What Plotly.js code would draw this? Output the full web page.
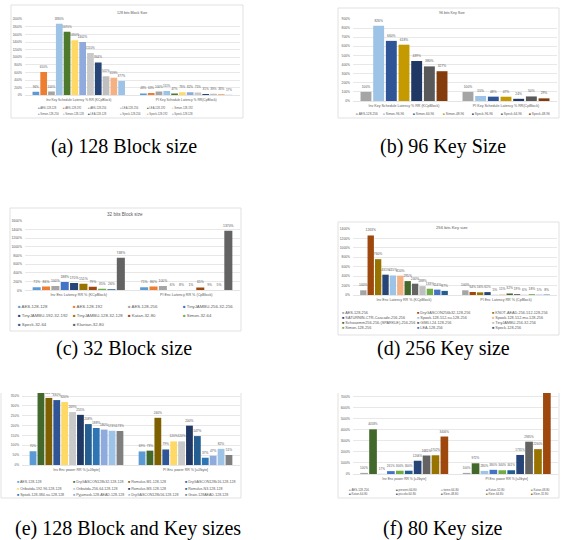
<!DOCTYPE html>
<html><head><meta charset="utf-8">
<script src="https://cdn.plot.ly/plotly-3.0.1.min.js"></script>
<style>html,body{margin:0;padding:0;background:#fff;}#chart{width:568px;height:540px;}</style>
</head><body><div id="chart"></div>
<script>
// ---------- DATA ----------
// (a) 128 bits Block Size
const aCats = ["Inv Key Schedule Latency % RR (KCpBlock)", "PI Key Schedule Latency % RR(CpBlock)"];
const aNames = ["AES-128-128","AES-128-192","AES-128-256","LEA-128-256","LEA-128-192","Simon-128-192","Simon-128-256","Simon-128-128","LEA-128-128","Speck-128-256","Speck-128-192","Speck-128-128"];
const aInv = [96,610,100,1880,1670,1450,1402,1110,864,501,459,377];
const aPi  = [48,63,100,111,47,79,82,75,31,39,33,17];
// (b) 96 bits Key Size
const bCats = ["Inv Key Schedule Latency % RR (KCpBlock)", "PI Key Schedule Latency % RR(CpBlock)"];
const bNames = ["AES-128-256","Simon-96-96","Simon-64-96","Simon-48-96","Speck-96-96","Speck-64-96","Speck-48-96"];
const bInv = [100,826,660,618,439,380,327];
const bPi  = [100,55,48,47,24,50,29];
// (c) 32 bits Block size
const cCats = ["Inv Enc Latency RR % (KCpBlock)", "PI Enc Latency RR % (CpBlock)"];
const cNames = ["AES-128-128","AES-128-192","AES-128-256","TinyJAMBU-256-32-256","TinyJAMBU-192-32-192","TinyJAMBU-128-32-128","Katan-32-80","Simon-32-64","Speck-32-64","Klantan-32-80"];
const cInv = [71,86,100,188,170,151,79,35,26,748];
const cPi  = [71,86,100,6,8,1,65,9,5,1370];
// (d) 256 bits Key size
const dCats = ["Inv Enc Latency RR % (KCpBlock)", "PI Enc Latency RR % (CpBlock)"];
const dNames = ["AES-128-256","DryGASCON256k32-128-256","KNOT-AEAD-256-512-128-256","SATURNIN-CTR-Cascade-256-256","Spook-128-512-su-128-256","Spook-128-512-mu-128-256","Schwaemm256-256-(SPARKLE)-256-256","GIMLI-24-128-256","TinyJAMBU-256-32-256","Simon-128-256","LEA-128-256","Speck-128-256"];
const dInv = [100,1263,760,431,415,410,295,240,188,133,114,87];
const dPi  = [100,64,56,61,5,11,32,19,6,18,5,8];
// (e) 128 Block and Key sizes (top of chart cropped in the figure)
const eCats = ["Inv Enc power RR % [uJ/byte]", "PI Enc power RR % [uJ/byte]"];
const eNames = ["AES-128-128","DryGASCON128k32-128-128","Romulus-M1-128-128","DryGASCON128k16-128-128","Oribatida-192-96-128-128","Oribatida-256-64-128-128","Romulus-M3-128-128","Romulus-N3-128-128","Spook-128-384-su-128-128","Pyjamask-128-AEAD-128-128","DryGASCON128k56-128-128","Grain-128AEAD-128-128"];
const eInv = [70,395,341,330,320,269,255,208,188,180,174,173];
const ePi  = [69,73,240,79,120,120,200,147,37,47,82,51];
// (f) 80 Key Size (top of chart cropped in the figure)
const fCats = ["Inv Enc power RR % [uJ/byte]", "PI Enc power RR % [uJ/byte]"];
const fNames = ["AES-128-256","present-64-80","twine-64-80","Katan-32-80","Katan-48-80","Katan-64-80","piccolo-64-80","Klein-48-80","Klein-64-80","Klein-32-80"];
const fInv = [100,4058,17,261,300,300,1206,1681,1702,3406];
const fPi  = [100,972,280,380,340,341,1731,2935,2260,7363];

// ---------- STYLE ----------
const aColors = ["#5B9BD5","#ED7D31","#A5A5A5","#9DC3E6","#4E7A2E","#FFD966","#8FAADC","#C9C9C9","#264478","#BFBFBF","#F4B183","#9DC3E6"];
const bColors = ["#A5A5A5","#9DC3E6","#2F5597","#C59A00","#203864","#595959","#843C0C"];
const cColors = ["#5B9BD5","#ED7D31","#A5A5A5","#4472C4","#264478","#997300","#9E480E","#70AD47","#255E91","#636363"];
const dColors = ["#A5A5A5","#9E480E","#997300","#264478","#9DC3E6","#F4B183","#43682B","#636363","#BFBFBF","#70AD47","#4472C4","#255E91"];
const eColors = ["#5B9BD5","#43682B","#7F6000","#2F5597","#FFD966","#C9C9C9","#203864","#255E91","#2E75B6","#8FAADC","#9DC3E6","#7F7F7F"];
const fColors = ["#A5A5A5","#43682B","#9DC3E6","#4472C4","#70AD47","#255E91","#264478","#636363","#997300","#9E480E"];

const W = 568, H = 540;
const px = x => x / W, py = y => 1 - y / H;
const TXT = "#595959", GRID = "#D9D9D9", SANS = "Liberation Sans, Arial, sans-serif";

const panels = [
  {cats:aCats,names:aNames,inv:aInv,pi:aPi,colors:aColors,x0:25,x1:240,y0:19.3,y1:95.3,max:2000,dtick:200,
   title:"128 bits Block Size",tx:132,ty:13,tfs:3.6,fs:3.0,lfs:2.7,box:[11,5,243,118],crop:false,
   legCols:[36,61,86,118,145,170],legRows:[108,114],perRow:6,cap:"(a) 128 Block size",capx:124,capy:147},
  {cats:bCats,names:bNames,inv:bInv,pi:bPi,colors:bColors,x0:353,x1:557,y0:19,y1:101,max:900,dtick:100,
   title:"96 bits Key Size",tx:452,ty:13,tfs:3.6,fs:3.3,lfs:3.2,box:[338,8,559,118],crop:false,
   legCols:[354,381,411,441,470,499,527],legRows:[113.5],perRow:7,cap:"(b) 96 Key Size",capx:443,capy:147},
  {cats:cCats,names:cNames,inv:cInv,pi:cPi,colors:cColors,x0:25,x1:240,y0:220.7,y1:290.3,max:1600,dtick:200,
   title:"32 bits Block size",tx:125,ty:214,tfs:4.6,fs:3.4,lfs:4.3,box:[10,208,241,331],crop:false,
   legCols:[16,71,126,181],legRows:[306,315,324],perRow:4,cap:"(c) 32 Block size",capx:124,capy:348},
  {cats:dCats,names:dNames,inv:dInv,pi:dPi,colors:dColors,x0:353,x1:557,y0:229,y1:295,max:1400,dtick:200,
   title:"256 bits Key size",tx:452,ty:227,tfs:4.2,fs:3.3,lfs:3.8,box:[338,222,559,335],crop:false,
   legCols:[340,415,490],legRows:[313,318,323,328],perRow:3,cap:"(d) 256 Key size",capx:443,capy:348},
  {cats:eCats,names:eNames,inv:eInv,pi:ePi,colors:eColors,x0:22,x1:240,y0:393,y1:465,max:366,dtick:50,
   title:"",box:[1,393,241,498],crop:true,fs:3.2,lfs:3.6,
   legCols:[15,71,126,183],legRows:[482,488.5,495],perRow:4,cap:"(e) 128 Block and Key sizes",capx:128,capy:528},
  {cats:fCats,names:fNames,inv:fInv,pi:fPi,colors:fColors,x0:353,x1:558,y0:393,y1:474,max:7360,dtick:1000,
   title:"",box:[338,393,559,498],crop:true,fs:3.0,lfs:2.9,
   legCols:[347,394,439,484,529],legRows:[490,494.3],perRow:5,cap:"(f) 80 Key size",capx:443,capy:528}
];

const data = [];
const layout = {
  width: W, height: H, margin:{l:0,r:0,t:0,b:0}, paper_bgcolor:"#fff", plot_bgcolor:"rgba(0,0,0,0)",
  barmode:"group", bargap:0.13, bargroupgap:0.14, showlegend:false,
  font:{family:SANS,color:TXT}, shapes:[], annotations:[]
};
const pline = (x0,y0,x1,y1) => ({type:"line",xref:"paper",yref:"paper",x0:px(x0),y0:py(y0),x1:px(x1),y1:py(y1),
  line:{color:GRID,width:0.8},layer:"below"});

panels.forEach((p,i) => {
  const n = i+1, xs = n===1?"":String(n);
  const xid = "x"+xs, yid = "y"+xs;
  layout["xaxis"+xs] = {domain:[px(p.x0),px(p.x1)], anchor:yid, type:"category", range:[-0.5,1.5],
    tickfont:{size:p.fs+0.3,color:TXT,family:SANS}, showgrid:false, showline:true, linecolor:GRID, linewidth:0.7,
    ticks:"", zeroline:false, fixedrange:true, ticklabelstandoff:1};
  layout["yaxis"+xs] = {domain:[py(p.y1),py(p.y0)], anchor:xid, range:[0,p.max], dtick:p.dtick, tick0:0,
    ticksuffix:"%", tickfont:{size:p.fs,color:TXT,family:SANS}, gridcolor:GRID, gridwidth:0.6,
    showline:false, zeroline:false, ticks:"", fixedrange:true, ticklabelstandoff:2};
  p.names.forEach((nm,j) => {
    const vals = [p.inv[j], p.pi[j]];
    data.push({type:"bar", x:p.cats, y:vals, name:nm, xaxis:xid, yaxis:yid,
      marker:{color:p.colors[j], line:{width:0}},
      text: vals.map(v => v+"%"), textposition:"outside", constraintext:"none", cliponaxis:p.crop,
      textfont:{size:p.fs,color:TXT,family:SANS}, hoverinfo:"skip", showlegend:false});
    const r = Math.floor(j/p.perRow), c = j % p.perRow;
    layout.annotations.push({xref:"paper",yref:"paper",x:px(p.legCols[c]),y:py(p.legRows[r]),
      xanchor:"left",yanchor:"middle",showarrow:false,
      text:'<span style="color:'+p.colors[j]+'">■</span> '+nm, font:{size:p.lfs,color:TXT,family:SANS}});
  });
  const b = p.box;
  if (p.crop) {
    layout.shapes.push(pline(b[0],b[1],b[0],b[3]), pline(b[2],b[1],b[2],b[3]), pline(b[0],b[3],b[2],b[3]));
  } else {
    layout.shapes.push({type:"rect",xref:"paper",yref:"paper",x0:px(b[0]),x1:px(b[2]),
      y0:py(b[3]),y1:py(b[1]),line:{color:GRID,width:0.8},fillcolor:"rgba(0,0,0,0)",layer:"below"});
  }
  if (p.title) {
    layout.annotations.push({xref:"paper",yref:"paper",x:px(p.tx),y:py(p.ty),xanchor:"center",yanchor:"middle",
      showarrow:false,text:p.title,font:{size:p.tfs,color:TXT,family:SANS}});
  }
  layout.annotations.push({xref:"paper",yref:"paper",x:px(p.capx),y:py(p.capy),xanchor:"center",yanchor:"middle",
    showarrow:false,text:p.cap,font:{size:20,color:"#000",family:"Liberation Serif, Times New Roman, serif"}});
});

Plotly.newPlot("chart", data, layout, {staticPlot:true, displayModeBar:false});
</script>
</body></html>
